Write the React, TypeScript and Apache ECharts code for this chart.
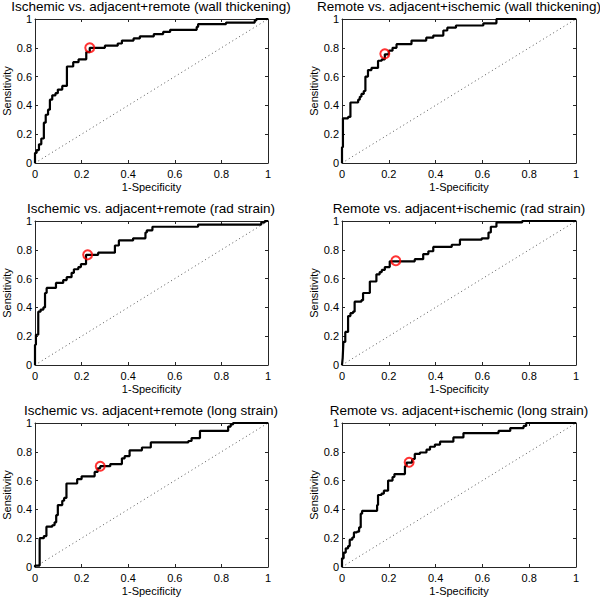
import React, { useEffect, useRef } from "react";
import * as echarts from "echarts";

const titles = [
  "Ischemic vs. adjacent+remote (wall thickening)",
  "Remote vs. adjacent+ischemic (wall thickening)",
  "Ischemic vs. adjacent+remote (rad strain)",
  "Remote vs. adjacent+ischemic (rad strain)",
  "Ischemic vs. adjacent+remote (long strain)",
  "Remote vs. adjacent+ischemic (long strain)",
];

const xAxisName = "1-Specificity";
const yAxisName = "Sensitivity";
const tickValues = [0, 0.2, 0.4, 0.6, 0.8, 1];

// ROC step corners: [1-specificity, sensitivity]
const fprIschWall = [0, 0, 0.007, 0.017, 0.027, 0.038, 0.046, 0.056, 0.064, 0.074, 0.088, 0.098, 0.117, 0.137, 0.164, 0.187, 0.22, 0.235, 0.3, 0.355, 0.373, 0.423, 0.45, 0.51, 0.55, 0.58, 0.694, 0.7, 0.82, 0.943, 0.95, 1];
const tprIschWall = [0, 0.07, 0.09, 0.13, 0.17, 0.28, 0.335, 0.37, 0.44, 0.47, 0.485, 0.51, 0.535, 0.67, 0.7, 0.72, 0.77, 0.8, 0.815, 0.83, 0.85, 0.865, 0.88, 0.895, 0.91, 0.925, 0.945, 0.965, 0.975, 0.99, 1, 1];

const fprRemWall = [0, 0, 0.004, 0.026, 0.036, 0.069, 0.076, 0.083, 0.093, 0.1, 0.111, 0.126, 0.154, 0.17, 0.183, 0.2, 0.216, 0.233, 0.297, 0.36, 0.39, 0.433, 0.45, 0.487, 0.604, 0.66, 1];
const tprRemWall = [0, 0.11, 0.31, 0.32, 0.42, 0.44, 0.46, 0.48, 0.5, 0.6, 0.645, 0.66, 0.71, 0.72, 0.755, 0.78, 0.8, 0.825, 0.85, 0.87, 0.885, 0.92, 0.94, 0.955, 0.97, 1, 1];

const fprIschRad = [0, 0, 0.004, 0.014, 0.024, 0.036, 0.043, 0.05, 0.09, 0.121, 0.136, 0.157, 0.167, 0.186, 0.197, 0.219, 0.271, 0.343, 0.36, 0.421, 0.474, 0.48, 0.504, 0.7, 0.971, 0.986, 1];
const tprIschRad = [0, 0.14, 0.21, 0.37, 0.385, 0.4, 0.5, 0.535, 0.57, 0.59, 0.61, 0.64, 0.665, 0.68, 0.7, 0.765, 0.78, 0.83, 0.865, 0.88, 0.92, 0.935, 0.96, 0.975, 0.99, 1, 1];

const fprRemRad = [0, 0.003, 0.006, 0.014, 0.026, 0.036, 0.047, 0.054, 0.083, 0.09, 0.119, 0.147, 0.161, 0.17, 0.183, 0.204, 0.311, 0.347, 0.369, 0.39, 0.469, 0.504, 0.597, 0.626, 0.636, 0.66, 0.77, 1];
const tprRemRad = [0, 0.05, 0.16, 0.23, 0.34, 0.36, 0.37, 0.44, 0.45, 0.5, 0.58, 0.63, 0.645, 0.66, 0.68, 0.72, 0.735, 0.77, 0.79, 0.82, 0.835, 0.87, 0.88, 0.92, 0.96, 0.99, 1, 1];

const fprIschLong = [0, 0, 0.02, 0.038, 0.049, 0.074, 0.084, 0.091, 0.098, 0.117, 0.125, 0.135, 0.181, 0.2, 0.256, 0.269, 0.28, 0.323, 0.373, 0.385, 0.406, 0.459, 0.497, 0.658, 0.672, 0.708, 0.829, 0.84, 0.85, 1];
const tprIschLong = [0, 0.01, 0.2, 0.215, 0.28, 0.29, 0.31, 0.36, 0.43, 0.46, 0.48, 0.58, 0.61, 0.63, 0.66, 0.685, 0.7, 0.715, 0.755, 0.77, 0.81, 0.83, 0.865, 0.875, 0.895, 0.945, 0.975, 0.99, 1, 1];

const fprRemLong = [0, 0, 0.007, 0.016, 0.026, 0.033, 0.044, 0.051, 0.064, 0.073, 0.08, 0.086, 0.15, 0.154, 0.169, 0.179, 0.197, 0.216, 0.224, 0.269, 0.276, 0.3, 0.311, 0.333, 0.361, 0.376, 0.397, 0.419, 0.476, 0.519, 0.669, 0.719, 0.776, 0.787, 1];
const tprRemLong = [0, 0.06, 0.1, 0.13, 0.145, 0.19, 0.205, 0.24, 0.245, 0.275, 0.37, 0.39, 0.43, 0.5, 0.51, 0.53, 0.6, 0.625, 0.645, 0.7, 0.725, 0.75, 0.785, 0.795, 0.815, 0.835, 0.85, 0.87, 0.9, 0.93, 0.945, 0.965, 0.98, 1, 1];

// Optimal operating points
const optFpr = [0.235, 0.183, 0.226, 0.23, 0.28, 0.287];
const optTpr = [0.8, 0.758, 0.765, 0.724, 0.7, 0.727];

const curves = [
  [fprIschWall, tprIschWall],
  [fprRemWall, tprRemWall],
  [fprIschRad, tprIschRad],
  [fprRemRad, tprRemRad],
  [fprIschLong, tprIschLong],
  [fprRemLong, tprRemLong],
];

const FONT = "Liberation Sans, Arial, Helvetica, sans-serif";
const AX = "#262626";

export default function App() {
  const ref = useRef<HTMLDivElement>(null);
  useEffect(() => {
    document.body.style.margin = "0";
    const chart = echarts.init(ref.current!, undefined, { renderer: "svg" });
    const lefts = [34, 342, 34, 342, 34, 342];
    const tops = [19, 19, 221, 221, 423, 423];
    const W = 234;
    const H = 144;
    const grids: any[] = [];
    const xAxes: any[] = [];
    const yAxes: any[] = [];
    const series: any[] = [];
    const title: any[] = [];
    const fmt = (v: number) => String(+v.toFixed(1));
    for (let i = 0; i < 6; i++) {
      grids.push({ left: lefts[i], top: tops[i], width: W, height: H, containLabel: false });
      title.push({
        text: titles[i],
        left: lefts[i] + W / 2,
        top: tops[i] - 19,
        textAlign: "center",
        padding: 0,
        textStyle: { fontFamily: FONT, fontSize: 13.5, lineHeight: 13, fontWeight: "normal", color: "#000" },
      });
      const common = {
        type: "value",
        gridIndex: i,
        min: 0,
        max: 1,
        interval: 0.2,
        splitLine: { show: false },
        axisLine: { show: true, onZero: false, lineStyle: { color: AX, width: 1 } },
        axisTick: { show: true, inside: true, length: 3, lineStyle: { color: AX } },
      };
      xAxes.push({
        ...common,
        position: "bottom",
        name: xAxisName,
        nameLocation: "middle",
        nameGap: 18,
        nameTextStyle: { fontFamily: FONT, fontSize: 11, color: "#000" },
        axisLabel: { fontFamily: FONT, fontSize: 11, color: "#000", margin: 5, formatter: fmt },
      });
      xAxes.push({ ...common, position: "top", axisLabel: { show: false } });
      yAxes.push({
        ...common,
        position: "left",
        name: yAxisName,
        nameLocation: "middle",
        nameGap: 23,
        nameTextStyle: { fontFamily: FONT, fontSize: 11, color: "#000" },
        axisLabel: { fontFamily: FONT, fontSize: 11, lineHeight: 11, color: "#000", margin: 3, formatter: fmt },
      });
      yAxes.push({ ...common, position: "right", axisLabel: { show: false } });
      const xi = i * 2;
      const yi = i * 2;
      series.push({
        type: "line",
        xAxisIndex: xi,
        yAxisIndex: yi,
        data: [[0, 0], [1, 1]],
        showSymbol: false,
        silent: true,
        z: 1,
        lineStyle: { color: "#555", width: 1, type: [1, 3] },
      });
      const [fx, ty] = curves[i];
      series.push({
        type: "line",
        xAxisIndex: xi,
        yAxisIndex: yi,
        data: fx.map((x, k) => [x, ty[k]]),
        step: "end",
        showSymbol: false,
        silent: true,
        z: 2,
        lineStyle: { color: "#000", width: 2.2 },
      });
      series.push({
        type: "scatter",
        xAxisIndex: xi,
        yAxisIndex: yi,
        data: [[optFpr[i], optTpr[i]]],
        symbol: "circle",
        symbolSize: 9,
        silent: true,
        z: 3,
        itemStyle: { color: "rgba(0,0,0,0)", borderColor: "#ff0000", borderWidth: 2 },
      });
    }
    chart.setOption({
      animation: false,
      backgroundColor: "#fff",
      title,
      grid: grids,
      xAxis: xAxes,
      yAxis: yAxes,
      series,
    });
    return () => chart.dispose();
  }, []);
  return <div ref={ref} style={{ width: 600, height: 598 }} />;
}
